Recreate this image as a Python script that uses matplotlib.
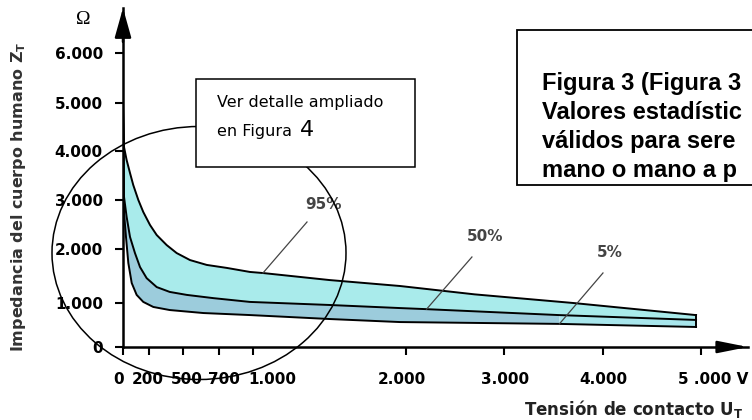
import numpy as np
import matplotlib.pyplot as plt
from matplotlib.patches import Ellipse, Rectangle
from matplotlib.transforms import ScaledTranslation

plt.rcParams['font.family'] = 'DejaVu Sans'
plt.rcParams['mathtext.fontset'] = 'dejavusans'

# tension de contacto (V) / impedancia total del cuerpo (ohm)
p95_v = [0, 8, 28, 54, 79, 118, 156, 209, 268, 356, 444, 539, 632, 768, 973,
         1065, 1500, 1960, 2700, 3700, 4950]
p95_z = [5000, 4080, 3815, 3550, 3305, 3000, 2755, 2490, 2285, 2080, 1925, 1795,
         1705, 1650, 1575, 1555, 1425, 1315, 1160, 1000, 725]

p50_v = [0, 8, 28, 54, 92, 131, 182, 268, 383, 521, 669, 973, 1500, 1960, 2210,
         3560, 4950]
p50_z = [4900, 3060, 2655, 2245, 1925, 1665, 1460, 1295, 1205, 1150, 1090, 1020,
         955, 885, 860, 725, 615]

p5_v = [0, 8, 23, 41, 67, 105, 156, 238, 383, 613, 973, 1500, 1960, 3560, 4950]
p5_z = [4800, 2735, 2245, 1740, 1370, 1150, 1020, 910, 840, 772, 726, 636, 567,
        525, 455]

xtick_vals = [0, 200, 500, 700, 1000, 2000, 3000, 4000, 5000]
xtick_txt = ['0', '200', '500', '700', '1.000', '2.000', '3.000', '4.000', '5 .000 V']
ytick_vals = [0, 1000, 2000, 3000, 4000, 5000, 6000]
ytick_txt = ['0', '1.000', '2.000', '3.000', '4.000', '5.000', '6.000']

# the original drawing has uneven axis spacing -> piecewise scale (value -> px)
xs_val = [0, 200, 500, 700, 1000, 2000, 3000, 4000, 5000, 5500]
xs_px = [0, 26, 60, 96, 130, 283, 381, 480, 578, 627]
ys_val = [0, 1000, 2000, 3000, 4000, 5000, 6000, 7000]
ys_px = [0, 44, 98, 147, 196, 244, 294, 344]


def fx(v):
    return np.interp(v, xs_val, xs_px)


def ifx(p):
    return np.interp(p, xs_px, xs_val)


def fy(v):
    return np.interp(v, ys_val, ys_px)


def ify(p):
    return np.interp(p, ys_px, ys_val)


W, H = 752, 420
fig = plt.figure(figsize=(W / 100, H / 100), dpi=100)
ax = fig.add_axes([123 / W, 1 - 347 / H, (748 - 123) / W, (347 - 8) / H])
ax.set_xscale('function', functions=(fx, ifx))
ax.set_yscale('function', functions=(fy, ify))
ax.set_xlim(0, 5480)
ax.set_ylim(0, 6900)

c_up = '#a9ebeb'
c_low = '#9cccdc'
c_low2 = '#a8e6ec'

# bandas
ax.fill(p95_v + p50_v[::-1], p95_z + p50_z[::-1], color=c_up, lw=0)
v50 = np.array(p50_v); z50 = np.array(p50_z)
v5 = np.array(p5_v); z5 = np.array(p5_z)
cut = 3560
m50 = v50 <= cut; m5 = v5 <= cut
ax.fill(np.r_[v50[m50], v5[m5][::-1]], np.r_[z50[m50], z5[m5][::-1]], color=c_low, lw=0)
m50 = v50 >= cut; m5 = v5 >= cut
ax.fill(np.r_[v50[m50], v5[m5][::-1]], np.r_[z50[m50], z5[m5][::-1]], color=c_low2, lw=0)

for v, z in [(p95_v, p95_z), (p50_v, p50_z), (p5_v, p5_z)]:
    ax.plot(v, z, color='black', lw=1.4, solid_joinstyle='round')
ax.plot([p95_v[-1], p5_v[-1]], [p95_z[-1], p5_z[-1]], color='black', lw=1.4)

# etiquetas con linea de referencia
labels = [('95%', 1065, p95_v, p95_z, (1353, 2551), (1464, 2898)),
          ('50%', 2210, p50_v, p50_z, (2673, 1852), (2806, 2245)),
          ('5%', 3560, p5_v, p5_z, (4000, 1556), (4071, 1926))]
for txt, vx, vv, zz, top, pos in labels:
    ax.plot([vx, top[0]], [np.interp(vx, vv, zz), top[1]], color='#444444', lw=0.9)
    ax.text(pos[0], pos[1], txt, ha='center', va='center', fontsize=11,
            fontweight='bold', color='#444444')

# ejes
for s in ['top', 'right']:
    ax.spines[s].set_visible(False)
for s in ['left', 'bottom']:
    ax.spines[s].set_linewidth(1.8)
ax.tick_params(axis='both', direction='out', length=6, width=1.5, labelsize=11)
ax.tick_params(axis='y', pad=8.5)
ax.tick_params(axis='x', pad=12)
ax.set_xticks(xtick_vals, xtick_txt, fontweight='bold')
ax.set_yticks(ytick_vals, ytick_txt, fontweight='bold')
ax.minorticks_off()
x_shift = [-4, -1, 4, 5, 19, -4, 1, 0, 12]
for lbl, dx in zip(ax.get_xticklabels(), x_shift):
    lbl.set_transform(lbl.get_transform() + ScaledTranslation(dx / 100, 0, fig.dpi_scale_trans))

ax.annotate('', xy=(1, 0), xytext=(0.95, 0), xycoords='axes fraction',
            arrowprops=dict(arrowstyle='-|>,head_length=1.0,head_width=0.2',
                            mutation_scale=18, color='black', lw=1.8,
                            shrinkA=0, shrinkB=0), annotation_clip=False)
ax.annotate('', xy=(0, 1), xytext=(0, 0.9), xycoords='axes fraction',
            arrowprops=dict(arrowstyle='-|>,head_length=1.0,head_width=0.28',
                            mutation_scale=18, color='black', lw=1.8,
                            shrinkA=0, shrinkB=0), annotation_clip=False)

fig.text(83 / W, 1 - 20 / H, '\u03a9', family='Liberation Serif', fontsize=14,
         ha='center', va='center')
fig.text(19 / W, 1 - 197 / H, r'Impedancia del cuerpo humano Z$_{\mathbf{T}}$',
         rotation=90, ha='center', va='center', fontsize=11.5,
         fontweight='bold', color='#333333')
fig.text(743 / W, 1 - 415 / H, r'Tensión de contacto U$_{\mathbf{T}}$',
         ha='right', va='baseline', fontsize=12, fontweight='bold', color='#222222')

# circulo de detalle y recuadros
fig.add_artist(Ellipse((199 / W, 1 - 253 / H), 294 / W, 253 / H, fill=False,
                       ec='black', lw=1.1, zorder=1))
fig.add_artist(Rectangle((196 / W, 1 - 167 / H), (415 - 196) / W, (167 - 79) / H,
                         fc='white', ec='black', lw=1.1, zorder=2))
fig.text(217 / W, 1 - 107 / H, 'Ver detalle ampliado', fontsize=11.5,
         va='baseline', zorder=3)
fig.text(217 / W, 1 - 136 / H, 'en Figura', fontsize=11.5, va='baseline', zorder=3)
fig.text(300 / W, 1 - 136 / H, '4', fontsize=16, va='baseline', zorder=3)

fig.add_artist(Rectangle((517 / W, 1 - 185 / H), (770 - 517) / W, (185 - 30) / H,
                         fc='white', ec='black', lw=1.3, zorder=2))
# only the part of each line that is visible in the original
box_lines = ['Figura 3 (Figura 3',
             'Valores estadístic',
             'válidos para sere',
             'mano o mano a p']
for i, t in enumerate(box_lines):
    fig.text(542 / W, 1 - (90 + 29 * i) / H, t, family='Liberation Sans',
             fontsize=17, fontweight='bold', va='baseline', zorder=3)

fig.savefig('out.png', dpi=100)
